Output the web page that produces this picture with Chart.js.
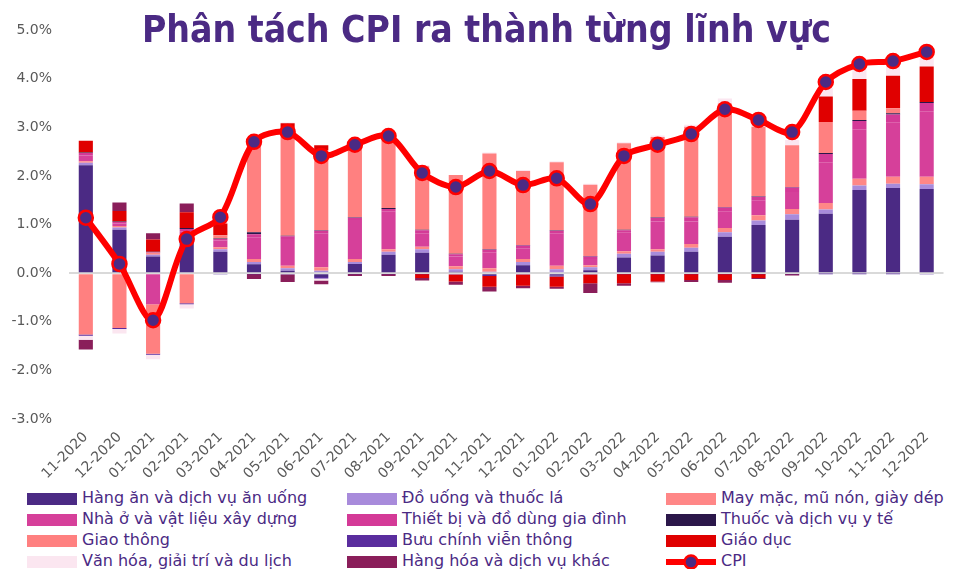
<!DOCTYPE html>
<html>
<head>
<meta charset="utf-8">
<script src="https://cdn.jsdelivr.net/npm/chart.js@4"></script>
<style>
  body { margin: 0; background: #fff; width: 953px; height: 569px; overflow: hidden; position: relative; font-family: "DejaVu Sans", sans-serif; }
  #wrap { position: absolute; left: 0; top: 0; width: 953px; height: 485px; }
  #title { position: absolute; top: 10px; left: 0; width: 973px; text-align: center; font: bold 37px/40px "DejaVu Sans Condensed", "DejaVu Sans", sans-serif; color: #4B2A84; z-index: 2; }
  #legend { position: absolute; left: 0; top: 488px; width: 953px; }
  .item { position: absolute; height: 20px; font-size: 16px; color: #4B2A84; white-space: nowrap; line-height: 20px; }
  .sw { position: absolute; left: 0; top: 5px; width: 50px; height: 12px; }
  .item span.t { position: absolute; left: 55px; top: 0; }
</style>
</head>
<body>
<div id="title">Phân tách CPI ra thành từng lĩnh vực</div>
<div id="wrap"><canvas id="cpiChart"></canvas></div>
<div id="legend"></div>
<script>
// ==========================================
// DATA (đóng góp vào CPI, điểm %)
// ==========================================
const months = ['11-2020','12-2020','01-2021','02-2021','03-2021','04-2021','05-2021','06-2021','07-2021','08-2021',
  '09-2021','10-2021','11-2021','12-2021','01-2022','02-2022','03-2022','04-2022','05-2022','06-2022',
  '07-2022','08-2022','09-2022','10-2022','11-2022','12-2022'];

const hangAn    = [2.22,0.89,0.34,0.70,0.44,0.18,0.05,-0.08,0.19,0.38,0.42,0.03,-0.04,0.16,-0.05,0.06,0.32,0.36,0.44,0.75,0.99,1.10,1.22,1.71,1.75,1.73];
const doUong    = [0.05,0.05,0.04,0.05,0.05,0.05,0.05,0.05,0.04,0.06,0.07,0.05,0.03,0.07,0.08,0.06,0.08,0.08,0.08,0.09,0.09,0.11,0.09,0.09,0.09,0.10];
const mayMac    = [0.03,0.03,0.04,0.03,0.04,0.06,0.05,0.07,0.06,0.05,0.05,0.06,0.07,0.06,0.07,0.04,0.05,0.05,0.08,0.09,0.11,0.11,0.13,0.14,0.14,0.15];
const nhaO      = [0.12,0.05,-0.64,0.08,0.14,0.45,0.55,0.70,0.80,0.78,0.28,0.20,0.33,0.22,0.67,0.13,0.38,0.57,0.46,0.33,0.30,0.35,0.84,1.02,1.11,1.35];
const thietBi   = [0.05,0.03,0.01,0.05,0.03,0.06,0.06,0.05,0.05,0.05,0.06,0.05,0.05,0.06,0.05,0.05,0.05,0.08,0.09,0.09,0.08,0.09,0.17,0.17,0.17,0.17];
const thuoc     = [0.01,0.01,0.01,0.02,0.01,0.04,0.01,0.01,0.01,0.02,0.01,0.01,0.01,0.01,0.01,0.01,0.01,0.01,0.01,0.01,0.01,0.01,0.02,0.02,0.03,0.02];
const giaoThong = [-1.26,-1.13,-1.02,-0.62,0.07,1.88,2.21,1.65,1.52,1.46,1.31,1.62,1.97,1.52,1.40,1.47,1.78,1.65,1.85,2.13,1.43,0.86,0.64,0.19,0.10,0.00];
const buuChinh  = [-0.03,-0.02,-0.02,-0.02,-0.02,-0.02,-0.03,-0.03,-0.02,-0.02,-0.02,-0.03,-0.02,-0.03,-0.02,-0.03,-0.02,-0.02,-0.02,-0.02,-0.02,-0.02,-0.01,-0.01,-0.01,-0.02];
const giaoDuc   = [0.24,0.22,0.25,0.32,0.24,0.00,0.10,0.10,0.00,0.00,-0.08,-0.14,-0.22,-0.23,-0.21,-0.18,-0.19,-0.15,-0.12,-0.12,-0.08,0.00,0.52,0.65,0.67,0.73];
const vanHoa    = [-0.08,-0.09,-0.09,-0.09,0.12,0.05,0.02,-0.04,0.02,0.03,0.02,0.00,0.02,0.02,0.02,0.02,0.02,0.03,0.04,0.10,0.10,0.11,0.18,0.27,0.34,0.22];
const hangKhac  = [-0.20,0.17,0.13,0.18,0.05,-0.10,-0.15,-0.08,-0.04,-0.04,-0.05,-0.07,-0.10,-0.05,-0.04,-0.20,-0.05,-0.02,-0.04,-0.06,-0.02,-0.03,0.00,0.00,0.00,0.00];
const cpi       = [1.14,0.19,-0.97,0.70,1.15,2.70,2.90,2.41,2.64,2.82,2.06,1.77,2.10,1.81,1.95,1.42,2.41,2.64,2.86,3.37,3.15,2.90,3.93,4.30,4.36,4.55];

const yTicks = [-3, -2, -1, 0, 1, 2, 3, 4, 5];

const PURPLE = '#4B2A84';
const TEXT_GREY = '#595959';

const barSeries = [
  { label: 'Hàng ăn và dịch vụ ăn uống',   data: hangAn,    color: '#4B2A84' },
  { label: 'Đồ uống và thuốc lá',          data: doUong,    color: '#A88BDB' },
  { label: 'May mặc, mũ nón, giày dép',    data: mayMac,    color: '#FF8787' },
  { label: 'Nhà ở và vật liệu xây dựng',   data: nhaO,      color: '#D6409A' },
  { label: 'Thiết bị và đồ dùng gia đình', data: thietBi,   color: '#D43A97' },
  { label: 'Thuốc và dịch vụ y tế',        data: thuoc,     color: '#2B174A' },
  { label: 'Giao thông',                   data: giaoThong, color: '#FF8080' },
  { label: 'Bưu chính viễn thông',         data: buuChinh,  color: '#5A2D9E' },
  { label: 'Giáo dục',                     data: giaoDuc,   color: '#E00000' },
  { label: 'Văn hóa, giải trí và du lịch', data: vanHoa,    color: '#FBE6F0' },
  { label: 'Hàng hóa và dịch vụ khác',     data: hangKhac,  color: '#8A1E5A' }
];

// ==========================================
// CHART
// ==========================================
const datasets = barSeries.map(s => ({
  type: 'bar',
  label: s.label,
  data: s.data,
  backgroundColor: s.color,
  borderWidth: 0,
  barPercentage: 0.42,
  categoryPercentage: 1,
  order: 2
}));

datasets.push({
  type: 'line',
  label: 'CPI',
  data: cpi,
  stack: 'cpi',
  borderColor: '#FF0000',
  borderWidth: 6,
  tension: 0.3,
  pointRadius: 7,
  pointBackgroundColor: PURPLE,
  pointBorderColor: '#FF0000',
  pointBorderWidth: 2.5,
  order: 0
});

const ctx = document.getElementById('cpiChart').getContext('2d');
const cpiChart = new Chart(ctx, {
  data: { labels: months, datasets: datasets },
  options: {
    responsive: true,
    maintainAspectRatio: false,
    animation: false,
    layout: { padding: { top: 30, right: 0, bottom: 4, left: 0 } },
    plugins: { legend: { display: false }, tooltip: { enabled: false } },
    scales: {
      x: {
        stacked: true,
        offset: true,
        grid: { display: false },
        border: { display: false },
        ticks: { color: TEXT_GREY, font: { family: 'DejaVu Sans', size: 14 }, minRotation: 45, maxRotation: 45, autoSkip: false, padding: 2 },
        afterFit: s => { s.height = 62; }
      },
      y: {
        stacked: true,
        min: -3, max: 5,
        afterBuildTicks: s => { s.ticks = yTicks.map(v => ({ value: v })); },
        grid: {
          drawTicks: false,
          lineWidth: 2,
          color: c => (c.tick && c.tick.value === 0) ? '#D9D9D9' : 'rgba(0,0,0,0)'
        },
        border: { display: false },
        ticks: { color: TEXT_GREY, font: { family: 'DejaVu Sans', size: 14 }, padding: 17, callback: v => v.toFixed(1) + '%' },
        afterFit: s => { s.width = 69; }
      }
    }
  }
});

// ==========================================
// LEGEND (3 cột)
// ==========================================
const legendEl = document.getElementById('legend');
const colX = [27, 347, 666];
const rowY = [0, 21, 42, 63];
const legendItems = barSeries.map(s => ({ label: s.label, color: s.color })).concat([{ label: 'CPI', line: true }]);

legendItems.forEach((it, i) => {
  const div = document.createElement('div');
  div.className = 'item';
  div.style.left = colX[i % 3] + 'px';
  div.style.top = rowY[Math.floor(i / 3)] + 'px';
  if (it.line) {
    div.innerHTML = '<svg class="sw" style="top:1px;height:20px" width="50" height="20">' +
      '<line x1="0" y1="10" x2="50" y2="10" stroke="#FF0000" stroke-width="6"/>' +
      '<circle cx="25" cy="10" r="6.5" fill="' + PURPLE + '" stroke="#FF0000" stroke-width="2.5"/></svg>';
  } else {
    div.innerHTML = '<div class="sw" style="background:' + it.color + '"></div>';
  }
  const t = document.createElement('span');
  t.className = 't';
  t.textContent = it.label;
  div.appendChild(t);
  legendEl.appendChild(div);
});
</script>
</body>
</html>
